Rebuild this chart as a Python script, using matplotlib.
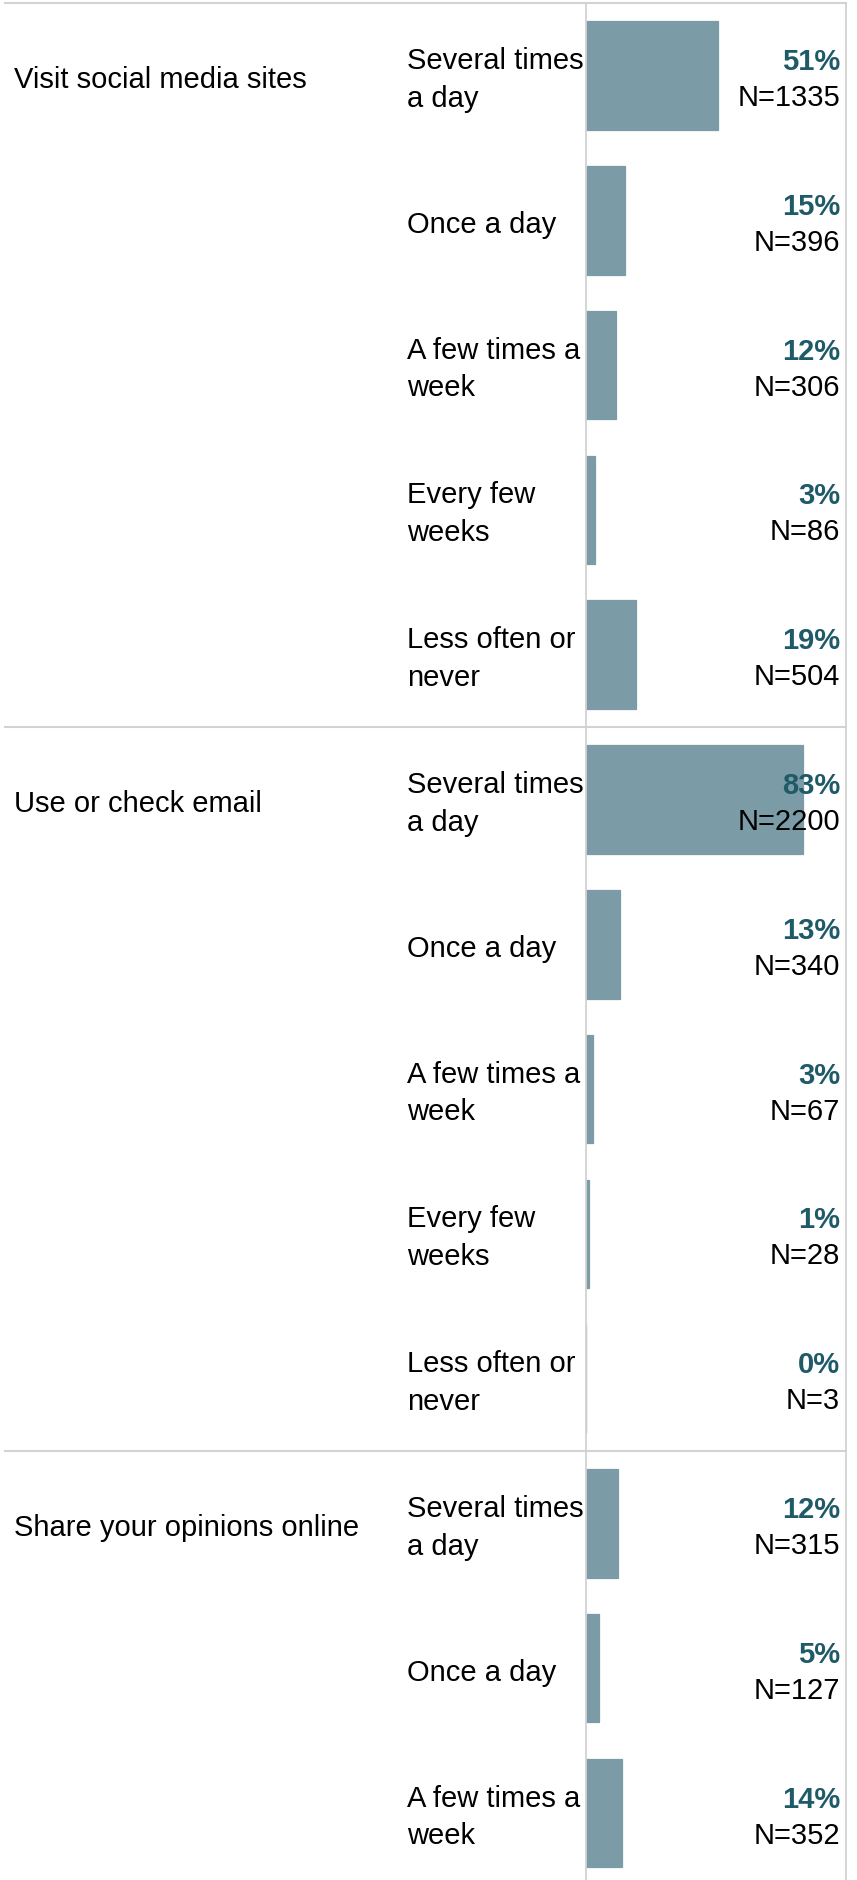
import matplotlib
matplotlib.use("Agg")
import matplotlib.pyplot as plt
import matplotlib.transforms as mtransforms
from matplotlib.lines import Line2D
import numpy as np

# Groups (activities) and their frequency categories
groups = ['Visit social media sites', 'Use or check email', 'Share your opinions online']
categories = ['Several times\na day', 'Once a day', 'A few times a\nweek',
              'Every few\nweeks', 'Less often or\nnever']

# Share of respondents (%) per group, and count per category
social_pct = [50.8, 15.1, 11.6, 3.3, 19.2]
social_n = [1335, 396, 306, 86, 504]
email_pct = [83.4, 12.9, 2.5, 1.1, 0.1]
email_n = [2200, 340, 67, 28, 3]
share_pct = [12.3, 5.0, 13.8]     # chart is cut off after the third row
share_n = [315, 127, 352]

# labels as printed on the chart
social_lbl = [51, 15, 12, 3, 19]
email_lbl = [83, 13, 3, 1, 0]
share_lbl = [12, 5, 14]

BAR_COLOR = '#7b9ca6'
PCT_COLOR = '#1f5a68'
GRID_COLOR = '#d2d2d2'

plt.rcParams['font.family'] = ['Liberation Sans', 'DejaVu Sans']


def make_chart():
    W, H = 857, 1881
    fig = plt.figure(figsize=(W / 100, H / 100), dpi=100)

    top_px = 4          # top border
    row_px = 144.8      # height of one row
    x0_px, x1_px = 586, 846

    ax = fig.add_axes([x0_px / W, 0, (x1_px - x0_px) / W, 1])

    # flatten the table into rows
    all_pct = social_pct + email_pct + share_pct
    all_n = social_n + email_n + share_n
    all_lbl = social_lbl + email_lbl + share_lbl
    sizes = [len(social_pct), len(email_pct), len(share_pct)]
    all_cat = categories * 2 + categories[:len(share_pct)]

    centers = np.arange(len(all_pct)) + 0.5
    # thin edge so the near-zero bars still show as a sliver
    ax.barh(centers, all_pct, height=0.75, color=BAR_COLOR,
            edgecolor=BAR_COLOR, linewidth=0.9, zorder=2)

    ax.set_xlim(0, 100)
    ymax = (H - top_px) / row_px
    ax.set_ylim(ymax, -top_px / row_px)
    ax.set_xticks([])
    ax.set_yticks([])
    for s in ['top', 'bottom']:
        ax.spines[s].set_visible(False)
    for s in ['left', 'right']:
        ax.spines[s].set_color(GRID_COLOR)
        ax.spines[s].set_linewidth(1.3)
        ax.spines[s].set_bounds(0, ymax)
    ax.patch.set_alpha(0)

    blend = mtransforms.blended_transform_factory(fig.transFigure, ax.transData)
    # labels on the left sit a few pixels below the row centre
    blend_low = mtransforms.offset_copy(blend, fig=fig, x=0, y=-3.5, units='dots')

    # horizontal borders: top and between groups
    starts = np.cumsum([0] + sizes[:-1])
    for y in starts:
        fig.add_artist(Line2D([5 / W, x1_px / W], [y, y], transform=blend,
                              color=GRID_COLOR, linewidth=1.5))

    fs = 21
    for g, y in zip(groups, starts):
        fig.text(14 / W, y + 0.5, g, transform=blend_low, fontsize=fs,
                 ha='left', va='center', color='black')

    for yc, cat, lbl, n in zip(centers, all_cat, all_lbl, all_n):
        fig.text(407 / W, yc, cat, transform=blend_low, fontsize=fs,
                 ha='left', va='center', linespacing=1.45, color='black')
        ax.annotate(f'{lbl}%', xy=(840 / W, yc), xycoords=blend,
                    xytext=(0, 4.6), textcoords='offset points',
                    ha='right', va='baseline', fontsize=fs,
                    fontweight='bold', color=PCT_COLOR, zorder=3)
        ax.annotate(f'N={n}', xy=(840 / W, yc), xycoords=blend,
                    xytext=(0, -21.3), textcoords='offset points',
                    ha='right', va='baseline', fontsize=fs,
                    color='black', zorder=3)

    fig.savefig('out.png', dpi=100)


if __name__ == "__main__":
    make_chart()
